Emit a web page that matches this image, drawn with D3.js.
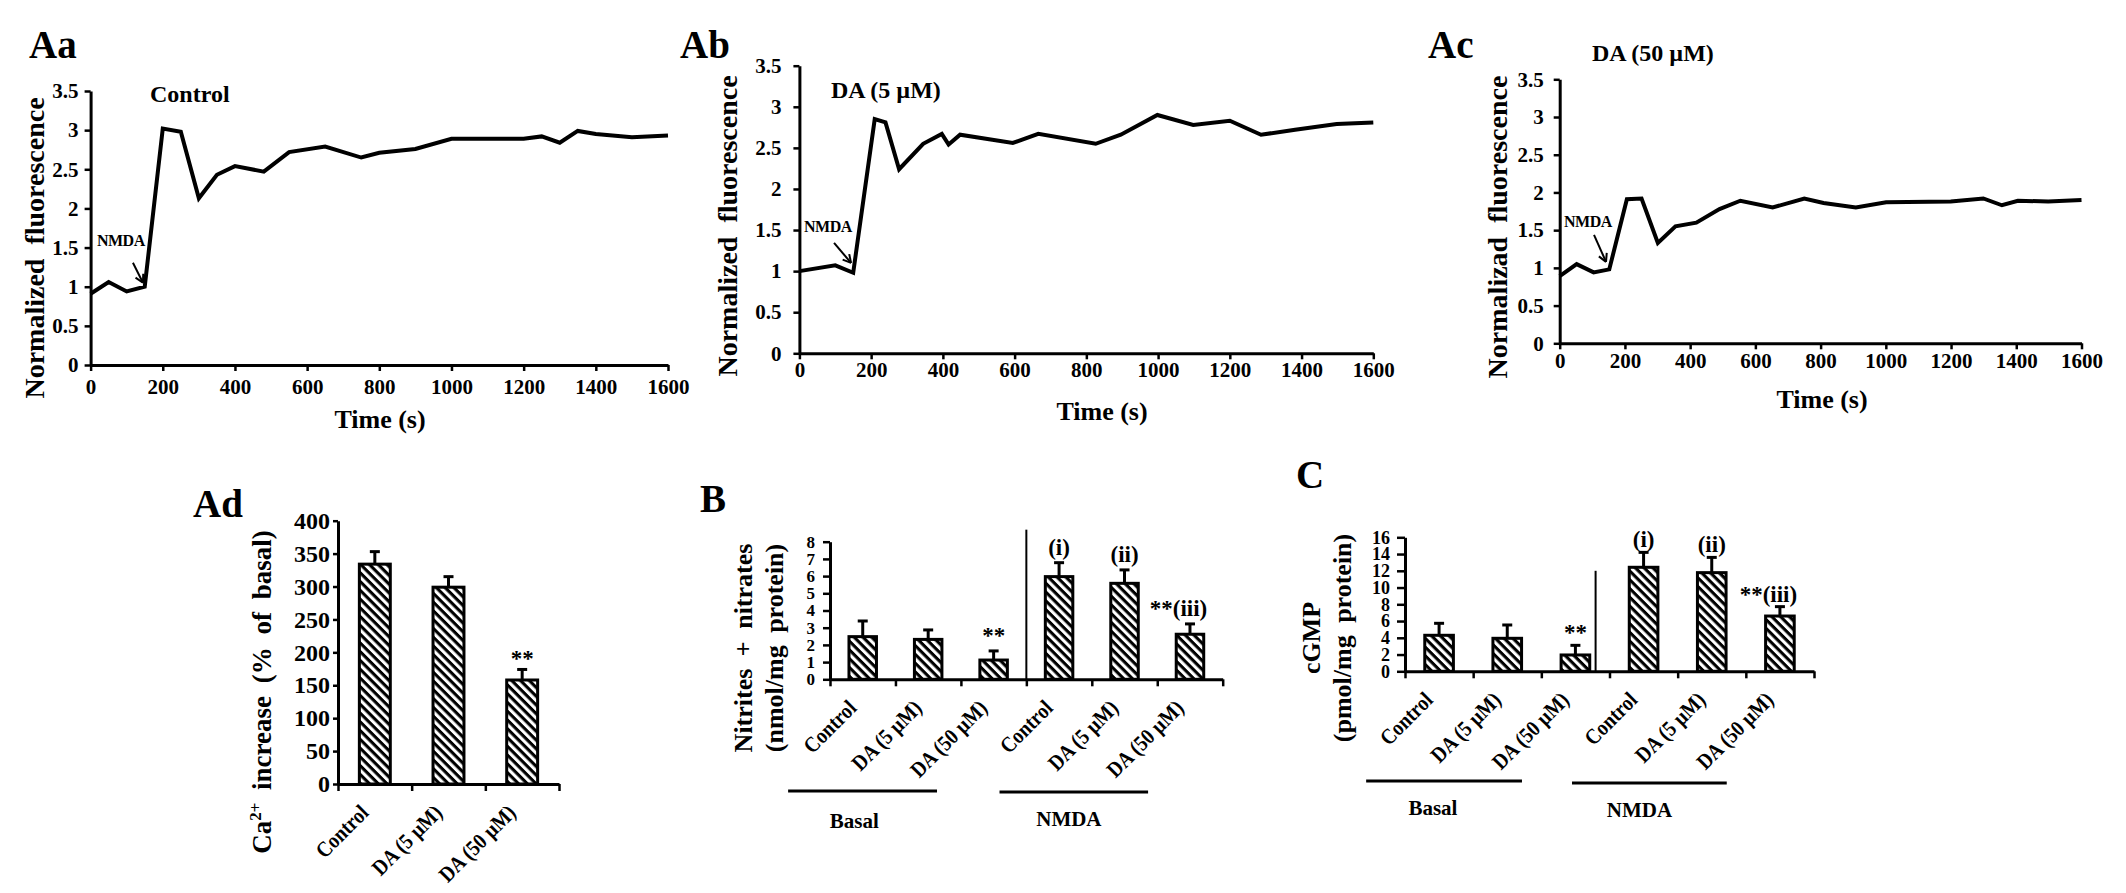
<!DOCTYPE html>
<html><head><meta charset="utf-8">
<script src="https://cdn.jsdelivr.net/npm/d3@7"></script>
<style>
html,body{margin:0;padding:0;background:#fff;}
svg{display:block;}
text{font-family:"Liberation Serif","Times New Roman",serif;font-weight:bold;fill:#000;}
</style></head><body>
<svg id="fig" width="2126" height="893" viewBox="0 0 2126 893"></svg>
<script>
// ---------------- DATA ----------------
const lineTicksX = [0,200,400,600,800,1000,1200,1400,1600];
const lineTicksY = [0,0.5,1,1.5,2,2.5,3,3.5];
const lineTickLabelsY = ["0","0.5","1","1.5","2","2.5","3","3.5"];

const timeAa = [0,50,100,150,200,250,300,350,400,480,550,650,750,800,900,1000,1200,1250,1300,1350,1400,1500,1600];
const valAa  = [0.91,1.06,0.94,1.0,3.02,2.98,2.13,2.43,2.54,2.47,2.72,2.79,2.65,2.71,2.76,2.89,2.89,2.92,2.84,2.99,2.95,2.91,2.93];

const timeAb = [0,100,150,210,240,278,345,397,416,448,595,666,826,896,998,1098,1200,1287,1382,1498,1600];
const valAb  = [1.0,1.07,0.98,2.85,2.81,2.24,2.55,2.67,2.54,2.66,2.56,2.67,2.55,2.66,2.9,2.78,2.83,2.66,2.72,2.79,2.81];

const timeAc = [0,52,104,152,206,251,301,355,419,490,554,653,750,809,908,1001,1199,1299,1356,1405,1498,1600];
const valAc  = [0.89,1.05,0.94,0.98,1.91,1.92,1.33,1.55,1.6,1.78,1.89,1.8,1.92,1.86,1.8,1.87,1.88,1.92,1.83,1.89,1.88,1.9];

const adCategories = ["Control","DA (5 µM)","DA (50 µM)"];
const adValues = [334,299,158];
const adErrors = [19,16,16];
const adAnnot  = ["","","**"];
const adTicksY = [0,50,100,150,200,250,300,350,400];

const bcCategories = ["Control","DA (5 µM)","DA (50 µM)","Control","DA (5 µM)","DA (50 µM)"];
const bValues = [2.48,2.32,1.12,5.97,5.58,2.62];
const bErrors = [0.91,0.55,0.53,0.81,0.78,0.60];
const bAnnot  = ["","","**","(i)","(ii)","**(iii)"];
const bTicksY = [0,1,2,3,4,5,6,7,8];

const cValues = [4.30,3.94,1.95,12.42,11.78,6.60];
const cErrors = [1.43,1.59,1.15,1.78,1.82,1.12];
const cAnnot  = ["","","**","(i)","(ii)","**(iii)"];
const cTicksY = [0,2,4,6,8,10,12,14,16];

const groupNames = ["Basal","NMDA"];

// ---------------- SETUP ----------------
const svg = d3.select("#fig");
svg.append("rect").attr("width",2126).attr("height",893).attr("fill","#fff");
const defs = svg.append("defs");
const pat = defs.append("pattern").attr("id","hatch").attr("patternUnits","userSpaceOnUse")
  .attr("width",6.2).attr("height",6.2).attr("patternTransform","rotate(45)");
pat.append("rect").attr("width",6.2).attr("height",6.2).attr("fill","#fff");
pat.append("rect").attr("width",6.2).attr("height",3.1).attr("fill","#000");

function styleAxis(sel, fs){
  sel.select(".domain").attr("stroke","#000").attr("stroke-width",3);
  sel.selectAll(".tick line").attr("stroke","#000").attr("stroke-width",2.5);
  sel.selectAll(".tick text").attr("font-size",fs).attr("font-family",'"Liberation Serif","Times New Roman",serif').attr("font-weight","bold").attr("fill","#000");
}
function panelLabel(t,x,y){
  svg.append("text").attr("x",x).attr("y",y).attr("font-size",39).text(t);
}

// ---------------- LINE CHARTS ----------------
function lineChart(c){
  const x = d3.scaleLinear().domain([0,1600]).range([c.left,c.right]);
  const y = d3.scaleLinear().domain([0,3.5]).range([c.bottom,c.top]);
  const g = svg.append("g");
  const xa = g.append("g").attr("transform",`translate(0,${c.bottom})`)
    .call(d3.axisBottom(x).tickValues(lineTicksX).tickSize(6).tickSizeOuter(0).tickPadding(c.xPad).tickFormat(d3.format("d")));
  styleAxis(xa,21);
  const ya = g.append("g").attr("transform",`translate(${c.left},0)`)
    .call(d3.axisLeft(y).tickValues(lineTicksY).tickSize(6).tickSizeOuter(0).tickPadding(c.yPad).tickFormat((d,i)=>lineTickLabelsY[i]));
  styleAxis(ya,21);
  const pts = c.t.map((t,i)=>[t,c.v[i]]);
  g.append("path").datum(pts).attr("fill","none").attr("stroke","#000").attr("stroke-width",4).attr("stroke-linejoin","miter")
    .attr("d",d3.line().x(d=>x(d[0])).y(d=>y(d[1])));
  g.append("text").attr("x",c.titleX).attr("y",c.titleY).attr("font-size",24).text(c.title);
  g.append("text").attr("x",c.xlabX).attr("y",c.xlabY).attr("text-anchor","middle").attr("font-size",26).text("Time (s)");
  g.append("text").attr("transform",`translate(${c.ylabX},${c.ylabY}) rotate(-90)`).attr("text-anchor","middle")
    .attr("dy","0.35em").attr("font-size",28).attr("word-spacing",7).text(c.ylab);
  // NMDA arrow
  const tx = x(c.arrow[0]), ty = y(c.arrow[1]);
  const sx = tx + c.arrowTail[0], sy = ty + c.arrowTail[1];
  g.append("line").attr("x1",sx).attr("y1",sy).attr("x2",tx).attr("y2",ty).attr("stroke","#000").attr("stroke-width",2);
  const ang = Math.atan2(ty-sy, tx-sx);
  [0.5,-0.5].forEach(a=>{
    g.append("line").attr("x1",tx).attr("y1",ty)
      .attr("x2",tx-9*Math.cos(ang+a)).attr("y2",ty-9*Math.sin(ang+a))
      .attr("stroke","#000").attr("stroke-width",2);
  });
  g.append("text").attr("x",sx+c.nmdaOff[0]).attr("y",sy+c.nmdaOff[1]).attr("font-size",16).attr("letter-spacing",-0.5).text("NMDA");
}

lineChart({left:90.6,right:668,top:91,bottom:365,xPad:8,yPad:6,t:timeAa,v:valAa,
  title:"Control",titleX:150,titleY:102,xlabX:380,xlabY:428,ylabX:34,ylabY:248,ylab:"Normalized fluorescence",
  arrow:[145,1.05],arrowTail:[-10,-20],nmdaOff:[-36,-17]});
lineChart({left:799.4,right:1373.3,top:65.7,bottom:353.3,xPad:3,yPad:12,t:timeAb,v:valAb,
  title:"DA (5 µM)",titleX:831,titleY:98,xlabX:1102,xlabY:420,ylabX:727,ylabY:226,ylab:"Normalized fluorescence",
  arrow:[144,1.1],arrowTail:[-17,-20],nmdaOff:[-30,-11]});
lineChart({left:1559.7,right:2081.5,top:79.3,bottom:343.3,xPad:4,yPad:10,t:timeAc,v:valAc,
  title:"DA (50 µM)",titleX:1592,titleY:61,xlabX:1822,xlabY:408,ylabX:1497,ylabY:227,ylab:"Normalizad fluorescence",
  arrow:[142,1.08],arrowTail:[-12,-27],nmdaOff:[-30,-8]});

panelLabel("Aa",29,58);
panelLabel("Ab",680,58);
panelLabel("Ac",1428,58);

// ---------------- BAR CHARTS ----------------
function barChart(c){
  const n = c.cats.length;
  const idx = d3.range(n);
  const x = d3.scaleBand().domain(idx).range([c.left,c.right]).paddingInner(0.58).paddingOuter(0.29);
  const u = d3.scaleLinear().domain([0,n]).range([c.left,c.right]); // band-unit scale
  const y = d3.scaleLinear().domain([0,c.yMax]).range([c.bottom,c.top]);
  const g = svg.append("g");
  g.selectAll("rect.bar").data(idx).join("rect").attr("class","bar")
    .attr("x",i=>x(i)).attr("width",x.bandwidth())
    .attr("y",i=>y(c.vals[i])).attr("height",i=>y(0)-y(c.vals[i]))
    .attr("fill","url(#hatch)").attr("stroke","#000").attr("stroke-width",3);
  idx.forEach(i=>{
    const cx = x(i)+x.bandwidth()/2;
    g.append("line").attr("x1",cx).attr("x2",cx).attr("y1",y(c.vals[i])).attr("y2",y(c.vals[i]+c.errs[i]))
      .attr("stroke","#000").attr("stroke-width",3);
    g.append("line").attr("x1",cx-5).attr("x2",cx+5).attr("y1",y(c.vals[i]+c.errs[i])).attr("y2",y(c.vals[i]+c.errs[i]))
      .attr("stroke","#000").attr("stroke-width",3);
  });
  const xa = g.append("g").attr("transform",`translate(0,${c.bottom})`)
    .call(d3.axisBottom(u).tickValues(d3.range(n+1)).tickSize(7).tickSizeOuter(0).tickFormat(""));
  styleAxis(xa,20);
  const ya = g.append("g").attr("transform",`translate(${c.left},0)`)
    .call(d3.axisLeft(y).tickValues(c.ticks).tickSize(c.yTick).tickSizeOuter(0).tickPadding(c.yPad).tickFormat(d3.format("d")));
  styleAxis(ya,c.tickFs);
  idx.forEach(i=>{
    const cx = x(i)+x.bandwidth()/2 - 5;
    g.append("text").attr("transform",`translate(${cx},${c.bottom+30}) rotate(-45) scale(0.88,1)`)
      .attr("text-anchor","end").attr("font-size",c.catFs).text(c.cats[i]);
  });
  idx.forEach(i=>{
    const a = c.annot[i]; if(!a) return;
    const cx = x(i)+x.bandwidth()/2;
    const ty = y(c.vals[i]+c.errs[i]) + c.annOff;
    if(a.startsWith("**") && a.length>2){
      const t2 = g.append("text").attr("x",cx).attr("y",ty).attr("text-anchor","middle").attr("font-size",23).text(a.slice(2));
      const w = t2.node().getComputedTextLength();
      g.append("text").attr("x",cx-w/2).attr("y",ty).attr("text-anchor","end").attr("font-size",23).text("**");
    } else {
      g.append("text").attr("x",cx).attr("y",ty).attr("text-anchor","middle").attr("font-size",23).text(a);
    }
  });
  if(c.sep){
    g.append("line").attr("x1",u(c.sep[0])).attr("x2",u(c.sep[0])).attr("y1",y(0)).attr("y2",y(c.sep[1]))
      .attr("stroke","#000").attr("stroke-width",2);
  }
  if(c.groups){
    c.groups.forEach((gr,k)=>{
      g.append("line").attr("x1",u(gr.from)).attr("x2",u(gr.to)).attr("y1",gr.lineY).attr("y2",gr.lineY)
        .attr("stroke","#000").attr("stroke-width",3);
      g.append("text").attr("x",u(gr.textAt)).attr("y",gr.textY).attr("text-anchor","middle").attr("font-size",21).text(groupNames[k]);
    });
  }
  c.ylab.forEach((l,k)=>{
    const t = g.append("text").attr("transform",`translate(${c.ylabX[k]},${c.ylabY}) rotate(-90)`).attr("text-anchor","middle")
      .attr("dy","0.35em").attr("font-size",c.ylabFs).attr("word-spacing",6);
    if(l==="CA"){
      t.append("tspan").text("Ca");
      t.append("tspan").attr("font-size",c.ylabFs*0.62).attr("dy",-10).text("2+");
      t.append("tspan").attr("dy",10).text(" increase (% of basal)");
    } else t.text(l);
  });
}

barChart({left:338,right:559,top:520.7,bottom:784,yMax:400,ticks:adTicksY,tickFs:24,yTick:5,yPad:3,
  cats:adCategories,vals:adValues,errs:adErrors,annot:adAnnot,annOff:-3,catFs:22,
  ylab:["CA"],ylabX:[262],ylabY:692,ylabFs:27});
barChart({left:830,right:1222.7,top:541.7,bottom:679.3,yMax:8,ticks:bTicksY,tickFs:17,yTick:7,yPad:8,
  cats:bcCategories,vals:bValues,errs:bErrors,annot:bAnnot,annOff:-8,catFs:22,sep:[3,8.7],
  groups:[{from:-0.64,to:1.635,lineY:791,textAt:0.37,textY:828},{from:2.59,to:4.86,lineY:792,textAt:3.65,textY:826}],
  ylab:["Nitrites + nitrates","(nmol/mg protein)"],ylabX:[743,774],ylabY:648,ylabFs:26});
barChart({left:1405,right:1814,top:537.3,bottom:671.3,yMax:16,ticks:cTicksY,tickFs:18,yTick:8,yPad:7,
  cats:bcCategories,vals:cValues,errs:cErrors,annot:cAnnot,annOff:-5,catFs:22,sep:[2.796,12],
  groups:[{from:-0.57,to:1.716,lineY:781,textAt:0.41,textY:815},{from:2.45,to:4.72,lineY:783,textAt:3.44,textY:817}],
  ylab:["cGMP","(pmol/mg protein)"],ylabX:[1311,1342],ylabY:638,ylabFs:26});

panelLabel("Ad",193,517);
panelLabel("B",700,512);
panelLabel("C",1296,488);
</script>
</body></html>
